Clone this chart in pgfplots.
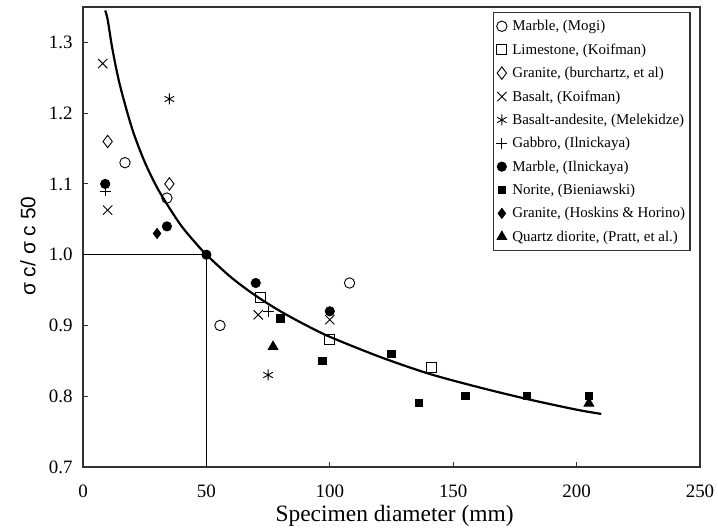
\documentclass[border=0pt]{standalone}
\usepackage{fontspec}
\setmainfont{Liberation Serif}
\newfontfamily\labelsans{Liberation Sans}
\usepackage{pgfplots}
\pgfplotsset{compat=1.18}

\begin{document}
\begin{tikzpicture}
\useasboundingbox (0,0) rectangle (718bp,531bp);
\begin{axis}[
    at={(83bp,64bp)}, anchor=south west,
    width=617bp, height=460bp, scale only axis,
    xmin=0, xmax=250, ymin=0.7, ymax=1.35,
    xtick={0,50,100,150,200,250},
    ytick={0.7,0.8,0.9,1.0,1.1,1.2,1.3},
    tick align=inside, tick pos=left, major tick length=5bp,
    axis line style={draw=black!80, line width=1.4bp},
    tick style={draw=black!80, line width=1bp},
    /pgf/number format/assume math mode=true,
    ticklabel style={font=\fontsize{19}{19}\selectfont},
    xticklabel style={yshift=-14bp},
    yticklabel style={xshift=-7bp, /pgf/number format/fixed,
        /pgf/number format/fixed zerofill, /pgf/number format/precision=1},
    xlabel={Specimen diameter (mm)},
    ylabel={\labelsans σ c/ σ c 50},
    xlabel style={font=\fontsize{23.5}{23.5}\selectfont,
        at={(axis description cs:0.505,0)}, anchor=base, yshift=-54bp},
    ylabel style={font=\fontsize{21}{21}\selectfont,
        at={(axis description cs:0,0.48)}, anchor=center, yshift=55bp},
    legend cell align=left,
    legend style={at={(rel axis cs:0.985,0.99)}, anchor=north east,
        draw=black!80, line width=1.5bp, font=\fontsize{15}{16}\selectfont,
        row sep=7.5bp, inner xsep=3bp, inner ysep=6bp,
        /tikz/every odd column/.append style={column sep=3bp}},
    every axis plot/.append style={line width=0.9bp},
]
% reference lines and fitted curve
\addplot[black, line width=0.8bp, forget plot] coordinates {(0,1.0) (50,1.0) (50,0.7)};
\addplot[black, line width=2.2bp, smooth, forget plot] coordinates {
    (9,1.345) (10,1.332) (12,1.289) (15,1.239) (20,1.177) (25,1.131) (30,1.095)
    (35,1.066) (40,1.040) (45,1.019) (50,1.0) (60,0.968) (70,0.942) (80,0.920)
    (90,0.901) (100,0.884) (120,0.856) (140,0.832) (160,0.813) (180,0.796)
    (200,0.781) (210,0.775)};

\addplot[only marks, mark=o, mark size=5.2bp] coordinates {(17,1.13) (34,1.08) (55.5,0.90) (108,0.96)};
\addlegendentry{Marble, (Mogi)}
\addplot[only marks, mark=square, mark size=5bp] coordinates {(72,0.94) (100,0.88) (141,0.84)};
\addlegendentry{Limestone, (Koifman)}
\addplot[only marks, mark=diamond, mark size=6.2bp] coordinates {(10,1.16) (35,1.10)};
\addlegendentry{Granite, (burchartz, et al)}
\addplot[only marks, mark=x, mark size=6.5bp] coordinates {(8,1.27) (10,1.063) (71,0.915) (100,0.908)};
\addlegendentry{Basalt, (Koifman)}
\addplot[only marks, mark=asterisk, mark size=5.5bp] coordinates {(35,1.22) (75,0.83)};
\addlegendentry{Basalt-andesite, (Melekidze)}
\addplot[only marks, mark=+, mark size=5.5bp] coordinates {(9,1.09) (75,0.92)};
\addlegendentry{Gabbro, (Ilnickaya)}
\addplot[only marks, mark=*, mark size=4.6bp] coordinates {(9,1.10) (34,1.04) (50,1.0) (70,0.96) (100,0.92)};
\addlegendentry{Marble, (Ilnickaya)}
\addplot[only marks, mark=square*, mark size=3.6bp] coordinates {(80,0.91) (97,0.85) (125,0.86) (136,0.79) (155,0.80) (180,0.80) (205,0.80)};
\addlegendentry{Norite, (Bieniawski)}
\addplot[only marks, mark=diamond*, mark size=5bp] coordinates {(30,1.03)};
\addlegendentry{Granite, (Hoskins \& Horino)}
\addplot[only marks, mark=triangle*, mark size=5.5bp] coordinates {(77,0.87) (205,0.79)};
\addlegendentry{Quartz diorite, (Pratt, et al.)}
\end{axis}
\end{tikzpicture}
\end{document}
